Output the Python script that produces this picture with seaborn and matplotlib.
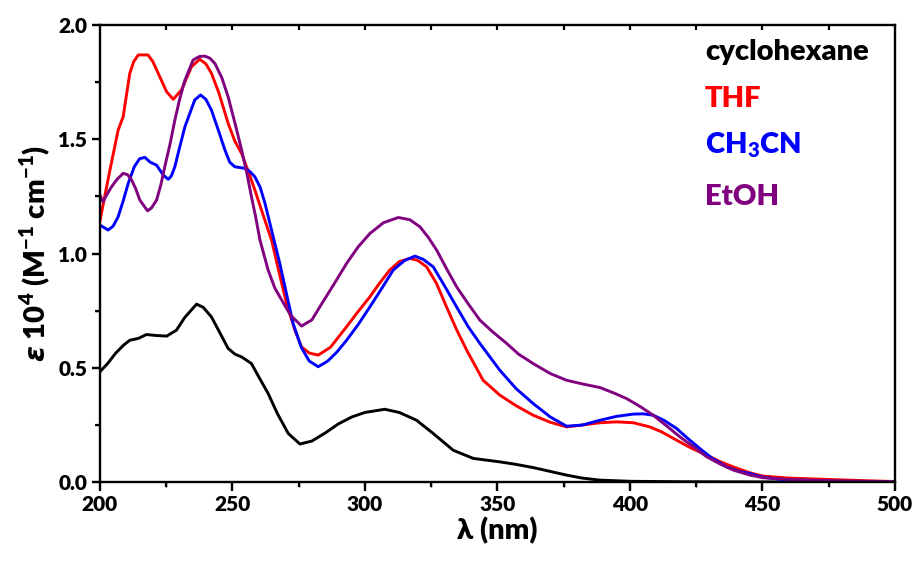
import numpy as np
import pandas as pd
import matplotlib
matplotlib.use("Agg")
import matplotlib.pyplot as plt
import matplotlib.transforms as mtransforms
from matplotlib.lines import Line2D
import seaborn as sns
from matplotlib.ticker import MultipleLocator, FormatStrFormatter

# ---------------- data ----------------
cyc_x = [200, 203, 206, 209, 211.3, 214.5, 217.6, 221, 225.2, 228.9, 232, 236.5, 239, 242.1, 245,
         248.4, 251, 253.5, 257.2, 260, 263.5, 267, 271.1, 275.5, 280, 285, 290, 295, 300, 307.5,
         313, 319.5, 325.8, 333.3, 340.9, 350.9, 357, 363.5, 370, 376.1, 382, 388.7, 400, 420, 500]
cyc_y = [0.483, 0.52, 0.565, 0.60, 0.621, 0.629, 0.646, 0.642, 0.639, 0.665, 0.72, 0.779, 0.765, 0.723, 0.66,
         0.585, 0.560, 0.548, 0.519, 0.46, 0.388, 0.30, 0.213, 0.167, 0.18, 0.215, 0.255, 0.285, 0.305, 0.319,
         0.305, 0.271, 0.213, 0.140, 0.104, 0.089, 0.078, 0.064, 0.047, 0.031, 0.018, 0.009, 0.004, 0.002, 0.0]

thf_x = [200, 202, 203.8, 206.9, 208.8, 211.3, 212.8, 214.5, 218.2, 220, 222, 225.2, 227.7, 230.8, 234.6,
         237.7, 240, 242.1, 245, 248.4, 251, 253.5, 256, 258.5, 261, 264.8, 268, 270.5, 273.6, 276.1,
         279, 282.4, 287, 293.1, 297, 301.9, 305.5, 309.4, 313, 317, 320, 323.3, 327, 330.8, 334.5,
         338.4, 344.6, 350.9, 357, 363.5, 370, 376.1, 382, 388.7, 395, 401.3, 407.5, 412, 417.6, 423,
         429, 434, 439, 445.3, 450, 460, 475, 490, 500]
thf_y = [1.14, 1.26, 1.365, 1.54, 1.599, 1.789, 1.84, 1.869, 1.869, 1.84, 1.789, 1.708, 1.675, 1.716, 1.818,
         1.850, 1.83, 1.789, 1.70, 1.57, 1.49, 1.438, 1.36, 1.278, 1.19, 1.059, 0.90, 0.78, 0.665, 0.592,
         0.565, 0.556, 0.59, 0.68, 0.74, 0.811, 0.87, 0.928, 0.965, 0.979, 0.97, 0.942, 0.87, 0.767, 0.67,
         0.578, 0.446, 0.381, 0.335, 0.293, 0.262, 0.242, 0.250, 0.260, 0.264, 0.260, 0.242, 0.22, 0.184, 0.15,
         0.118, 0.09, 0.067, 0.041, 0.027, 0.018, 0.012, 0.006, 0.003]

acn_x = [200, 203.1, 205, 206.9, 208.8, 210.7, 213, 215, 217, 219, 221.4, 223.9, 225.8, 227, 228.3, 230,
         232.1, 235.8, 238, 240, 242.1, 245, 247.2, 249, 250.9, 254.7, 256.5, 258.5, 260.5, 262.3, 265.4,
         267.9, 270.5, 272.9, 276, 279, 282.4, 286, 289.5, 293.1, 297.5, 301.9, 306.5, 310.7, 315, 318.9,
         322, 325.8, 330, 334.6, 339, 343.4, 350.9, 357, 363.5, 370, 376.1, 382, 388.7, 395, 401.3, 405,
         408.8, 413, 417.6, 422, 426.4, 431, 436.5, 441, 445.3, 450, 460, 475, 500]
acn_y = [1.125, 1.103, 1.12, 1.161, 1.23, 1.307, 1.38, 1.415, 1.421, 1.40, 1.387, 1.344, 1.325, 1.34, 1.38, 1.46,
         1.555, 1.672, 1.694, 1.675, 1.628, 1.53, 1.453, 1.40, 1.38, 1.373, 1.36, 1.336, 1.29, 1.22, 1.074,
         0.957, 0.82, 0.695, 0.59, 0.53, 0.505, 0.53, 0.57, 0.621, 0.69, 0.767, 0.85, 0.928, 0.97, 0.989,
         0.975, 0.942, 0.86, 0.767, 0.68, 0.607, 0.49, 0.41, 0.344, 0.285, 0.245, 0.25, 0.271, 0.288, 0.298, 0.299,
         0.293, 0.27, 0.235, 0.19, 0.147, 0.105, 0.067, 0.048, 0.038, 0.022, 0.008, 0.003, 0.001]

etoh_x = [200, 201.2, 202.5, 204.4, 206.5, 208.8, 210.5, 212, 213.5, 215.1, 218, 219.5, 221.4, 223, 224.5,
          226.5, 228.3, 230, 232.1, 235.2, 237.5, 239.6, 241.5, 243.4, 246, 248.4, 251, 253.5, 255.5, 257.2,
          258.8, 260.4, 263.5, 266, 268.6, 272, 276.1, 280, 283, 288, 293.1, 297.5, 301.9, 307, 312.6, 317,
          320.8, 324, 327.1, 331, 334.6, 339, 343.4, 348, 353.5, 358, 363.5, 370, 376.1, 382, 388.7, 394,
          398.7, 404, 408.8, 414, 418.9, 424, 429, 434, 439, 445.3, 450, 460, 475, 490, 500]
etoh_y = [1.256, 1.227, 1.255, 1.292, 1.325, 1.351, 1.345, 1.322, 1.285, 1.234, 1.187, 1.20, 1.234, 1.30, 1.38,
          1.48, 1.584, 1.67, 1.759, 1.847, 1.862, 1.864, 1.855, 1.832, 1.77, 1.686, 1.57, 1.453, 1.35, 1.249,
          1.16, 1.06, 0.928, 0.85, 0.797, 0.73, 0.683, 0.71, 0.767, 0.86, 0.957, 1.03, 1.088, 1.135, 1.158, 1.148,
          1.117, 1.07, 1.015, 0.93, 0.855, 0.78, 0.709, 0.66, 0.607, 0.56, 0.519, 0.475, 0.446, 0.43, 0.414, 0.39,
          0.366, 0.33, 0.293, 0.245, 0.198, 0.155, 0.111, 0.08, 0.053, 0.031, 0.02, 0.012, 0.007, 0.004, 0.002]

solvents = ["cyclohexane", "THF", "CH3CN", "EtOH"]
legend_labels = ["cyclohexane", "THF", r"CH$_\mathbf{3}$CN", "EtOH"]
colors = ["#000000", "#FF0000", "#0000FF", "#800080"]

frames = []
for name, xs, ys in zip(solvents, [cyc_x, thf_x, acn_x, etoh_x], [cyc_y, thf_y, acn_y, etoh_y]):
    frames.append(pd.DataFrame({"wl": xs, "eps": ys, "solvent": name}))
df = pd.concat(frames, ignore_index=True)

# ---------------- style ----------------
sns.set_theme(style="ticks", rc={
    "xtick.major.size": 6, "ytick.major.size": 6,
    "xtick.minor.size": 3.5, "ytick.minor.size": 3.5,
    "xtick.major.width": 1.6, "ytick.major.width": 1.6,
    "xtick.color": "black", "ytick.color": "black",
})
plt.rcParams["font.family"] = ["Lato", "DejaVu Sans"]
plt.rcParams["font.weight"] = "heavy"
plt.rcParams["mathtext.fontset"] = "custom"
plt.rcParams["mathtext.rm"] = "Lato:heavy"
plt.rcParams["mathtext.bf"] = "Lato:heavy"
plt.rcParams["mathtext.it"] = "DejaVu Sans:bold:italic"

fig = plt.figure(figsize=(9.16, 5.62), dpi=100)
ax = fig.add_axes([0.109, 0.142, 0.868, 0.8135])

sns.lineplot(data=df, x="wl", y="eps", hue="solvent", hue_order=solvents,
             palette=colors, estimator=None, sort=False, linewidth=2.1, ax=ax, legend=False)

ax.set_xlim(200, 500)
ax.set_ylim(0, 2.0)
ax.xaxis.set_major_locator(MultipleLocator(50))
ax.xaxis.set_minor_locator(MultipleLocator(25))
ax.yaxis.set_major_locator(MultipleLocator(0.5))
ax.yaxis.set_minor_locator(MultipleLocator(0.25))
ax.yaxis.set_major_formatter(FormatStrFormatter("%.1f"))
ax.tick_params(axis="both", which="major", labelsize=15, labelcolor="black", pad=3)

for s in ax.spines.values():
    s.set_visible(True)
    s.set_color("black")
    s.set_linewidth(1.7)

# tick marks drawn as short line segments at the locator positions
def draw_ticks(ax):
    fig = ax.figure
    tr_x = mtransforms.blended_transform_factory(ax.transData, ax.transAxes)
    tr_y = mtransforms.blended_transform_factory(ax.transAxes, ax.transData)
    x0, x1 = ax.get_xlim()
    y0, y1 = ax.get_ylim()
    bb = ax.get_window_extent()
    px_per_pt = fig.dpi / 72.0
    fx = lambda pts: pts * px_per_pt / bb.height   # fraction of axes height
    fy = lambda pts: pts * px_per_pt / bb.width    # fraction of axes width
    maj_x = [v for v in ax.xaxis.get_majorticklocs() if x0 <= v <= x1]
    min_x = [v for v in ax.xaxis.get_minorticklocs() if x0 <= v <= x1]
    maj_y = [v for v in ax.yaxis.get_majorticklocs() if y0 <= v <= y1]
    min_y = [v for v in ax.yaxis.get_minorticklocs() if y0 <= v <= y1]
    kw = dict(color="black", linewidth=1.6, clip_on=False, solid_capstyle="butt")
    for v in maj_x:
        ax.add_line(Line2D([v, v], [0, -fx(6)], transform=tr_x, **kw))
    for v in min_x:
        ax.add_line(Line2D([v, v], [0, -fx(3.5)], transform=tr_x, **kw))
    for v in sorted(set(maj_x) | set(min_x)):
        if x0 < v < x1:
            ax.add_line(Line2D([v, v], [1, 1 - fx(3.5)], transform=tr_x, **kw))
    for v in maj_y:
        ax.add_line(Line2D([0, -fy(6)], [v, v], transform=tr_y, **kw))
    for v in min_y:
        ax.add_line(Line2D([0, -fy(3.5)], [v, v], transform=tr_y, **kw))

draw_ticks(ax)

ax.set_xlabel("λ (nm)", fontsize=21, fontweight="heavy", labelpad=2, color="black")
ax.set_ylabel(r"$\varepsilon$ 10$^\mathbf{4}$ (M$^{\mathbf{-1}}$ cm$^{\mathbf{-1}}$)", fontsize=21,
              fontweight="heavy", labelpad=4, color="black")

# coloured solvent labels (legend without line handles)
label_y = [0.923, 0.821, 0.720, 0.606]
for lab, c, yy in zip(legend_labels, colors, label_y):
    ax.text(0.761, yy, lab, color=c, fontsize=21, fontweight="heavy",
            transform=ax.transAxes, ha="left", va="baseline")

fig.savefig("out.png", dpi=100)
